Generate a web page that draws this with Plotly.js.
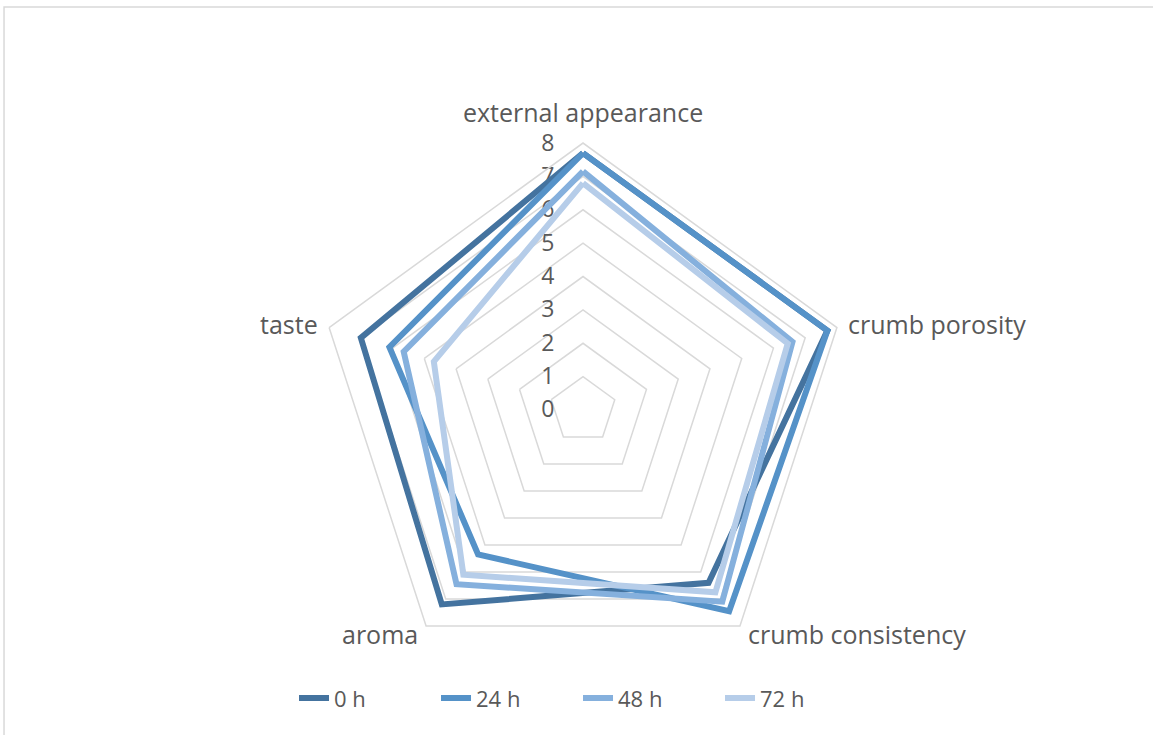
<!DOCTYPE html>
<html>
<head>
<meta charset="utf-8">
<script src="https://cdn.plot.ly/plotly-3.0.1.min.js"></script>
<style>
  html, body { margin: 0; padding: 0; background: #ffffff; }
  #chart { width: 1153px; height: 735px; }
</style>
</head>
<body>
<div id="chart"></div>
<script>
const categories = ["external appearance", "crumb porosity", "crumb consistency", "aroma", "taste"];
const seriesNames = ["0 h", "24 h", "48 h", "72 h"];
const values0h  = [7.7, 7.7, 6.4, 7.2, 7.0];
const values24h = [7.7, 7.7, 7.45, 5.35, 6.1];
const values48h = [7.15, 6.6, 7.1, 6.45, 5.65];
const values72h = [6.8, 6.45, 6.75, 6.1, 4.7];
const radialTicks = [0, 1, 2, 3, 4, 5, 6, 7, 8];
const colors = ["#44739f", "#5592c8", "#85b0dd", "#b6cde9"];

const W = 1153, H = 735;
const domX = [0.2741, 0.7372], domY = [0.0789, 0.8054];

const allValues = [values0h, values24h, values48h, values72h];
const traces = allValues.map((v, i) => ({
  type: "scatterpolar",
  mode: "lines",
  name: seriesNames[i],
  r: v.concat([v[0]]),
  theta: categories.concat([categories[0]]),
  line: { color: colors[i], width: 6 },
  hoverinfo: "skip"
}));

const fam = "Open Sans, Liberation Sans, Arial, sans-serif";
const font = { family: fam, color: "#595959" };

// Category labels placed around the polygon, derived from the polar domain geometry
const cx = (domX[0] + domX[1]) / 2 * W;
const cy = (1 - (domY[0] + domY[1]) / 2) * H;
const R = Math.min((domX[1] - domX[0]) * W, (domY[1] - domY[0]) * H) / 2;
const labelAnnotations = categories.map((c, i) => {
  const a = (90 - 360 / categories.length * i) * Math.PI / 180;
  const ca = Math.cos(a), sa = Math.sin(a);
  const top = sa > 0.9;
  const pad = top ? 12 : 10;
  const px = cx + (R + pad) * ca;
  const py = cy - (R + pad) * sa;
  return {
    text: c, showarrow: false,
    xref: "paper", yref: "paper",
    x: px / W, y: 1 - py / H,
    xanchor: Math.abs(ca) < 0.1 ? "center" : (ca > 0 ? "left" : "right"),
    yanchor: top ? "bottom" : "middle",
    font: { family: fam, size: 25, color: "#595959" }
  };
});

const layout = {
  width: W,
  height: H,
  margin: { l: 0, r: 0, t: 0, b: 0 },
  paper_bgcolor: "#ffffff",
  showlegend: true,
  font: font,
  legend: {
    orientation: "h",
    x: 0.255, xanchor: "left",
    y: 0.05, yanchor: "middle",
    font: { family: fam, size: 22, color: "#595959" },
    entrywidth: 97,
    entrywidthmode: "pixels",
    tracegroupgap: 0
  },
  polar: {
    domain: { x: domX, y: domY },
    gridshape: "linear",
    bgcolor: "rgba(0,0,0,0)",
    angularaxis: {
      direction: "clockwise",
      rotation: 90,
      showgrid: false,
      showline: true,
      showticklabels: false,
      linecolor: "#d9d9d9",
      linewidth: 1.5,
      ticks: ""
    },
    radialaxis: {
      range: [0, 8],
      tickvals: radialTicks,
      ticktext: radialTicks.map(String),
      angle: 90,
      tickangle: 90,
      side: "counterclockwise",
      showline: false,
      ticks: "outside",
      ticklen: 20,
      tickcolor: "rgba(0,0,0,0)",
      gridcolor: "#d9d9d9",
      gridwidth: 1.5,
      layer: "below traces",
      tickfont: { family: fam, size: 23, color: "#595959" }
    }
  },
  annotations: labelAnnotations,
  shapes: [
    {
      type: "rect", xref: "paper", yref: "paper",
      x0: 0.0035, x1: 1.01, y0: -0.01, y1: 0.9905,
      line: { color: "#d9d9d9", width: 1.5 },
      fillcolor: "rgba(0,0,0,0)"
    }
  ]
};

Plotly.newPlot("chart", traces, layout, { displayModeBar: false, staticPlot: true });
</script>
</body>
</html>
